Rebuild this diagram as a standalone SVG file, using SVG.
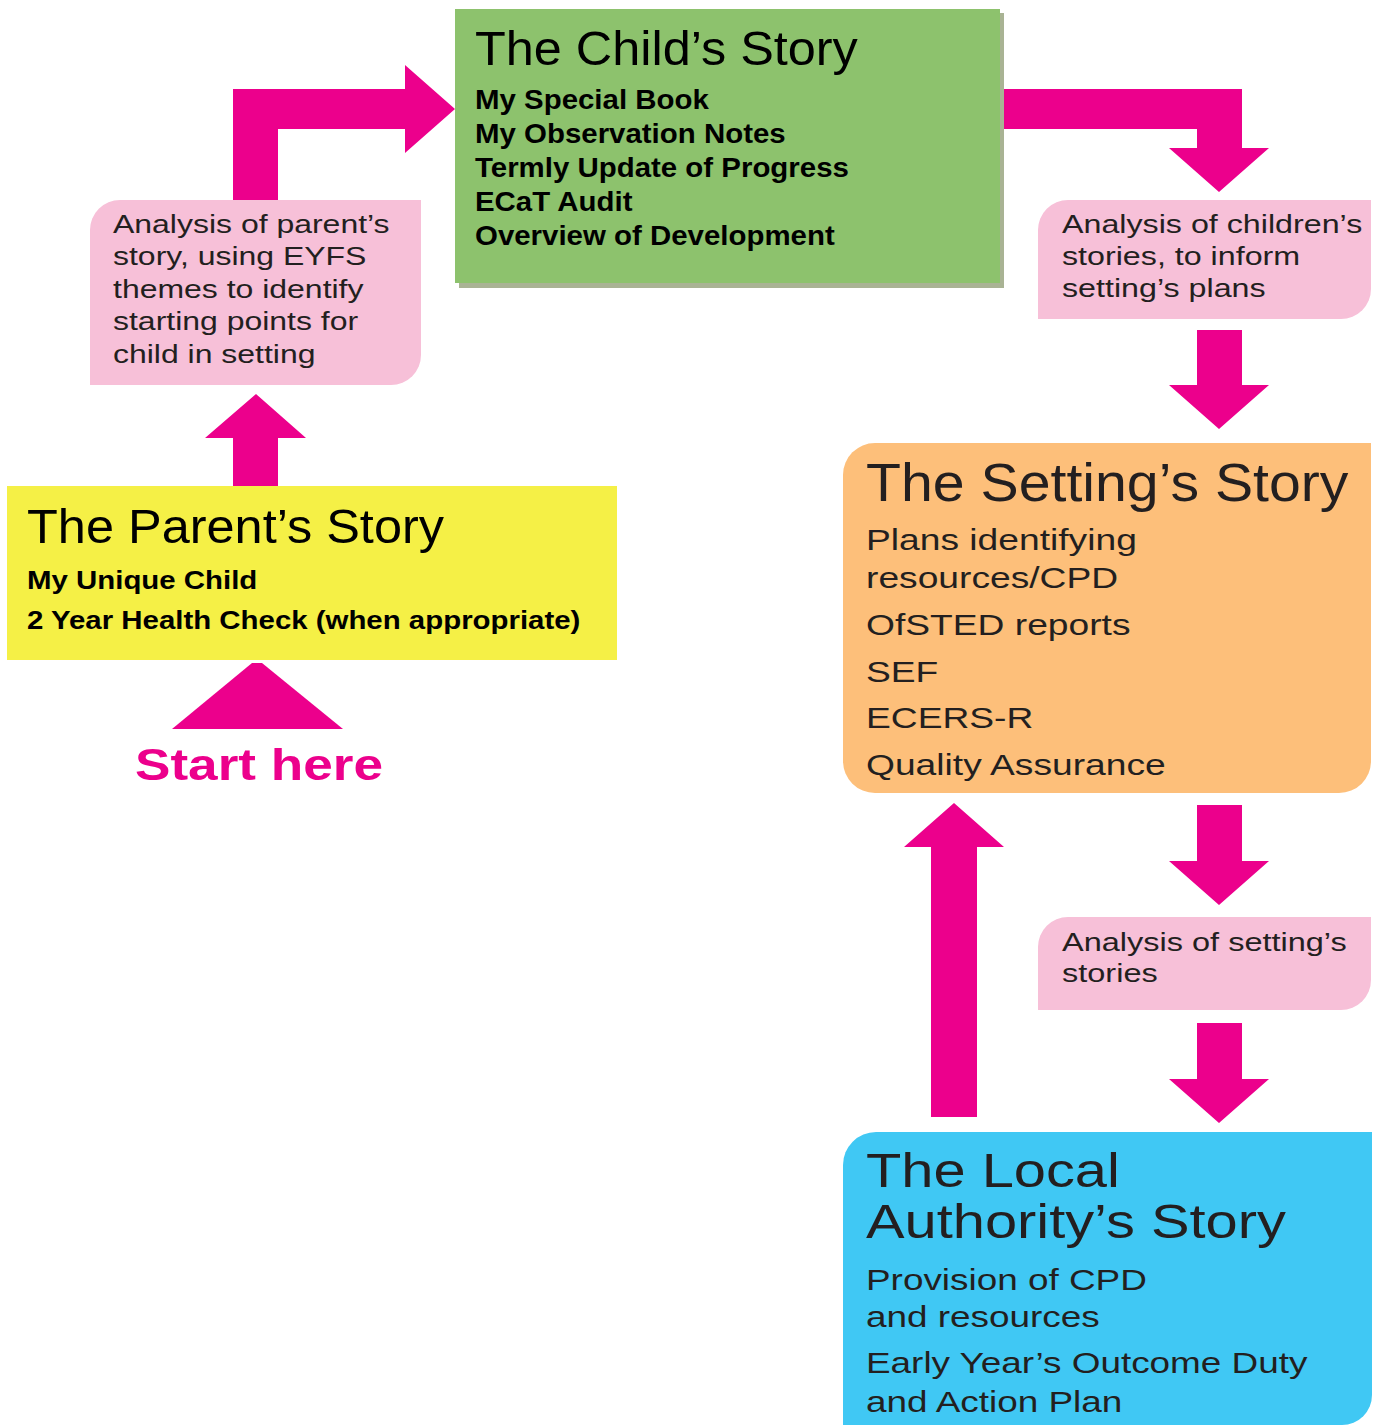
<svg xmlns="http://www.w3.org/2000/svg" width="1375" height="1425" viewBox="0 0 1375 1425">
<style>
.arrow{fill:#ec008c}
.pink{fill:#f7c0d8}
.hv{font-family:"Liberation Sans",Arial,sans-serif;fill:#231f20}
.ar{font-family:"Liberation Sans",Arial,sans-serif;fill:#000}
.b{font-weight:bold}
.pt{font-size:26px}
</style>
<rect width="1375" height="1425" fill="#ffffff"/>
<g id="connectors">
<polygon class="arrow" points="172,729 252,663 262,663 343,729"/>
<polygon class="arrow" points="233,486 233,438 205,438 256,394 306,438 278,438 278,486"/>
<polygon class="arrow" points="233,200 233,89 405,89 405,65 455,109 405,153 405,129 278,129 278,200"/>
<polygon class="arrow" points="1004,89 1242,89 1242,148 1269,148 1219,192 1169,148 1197,148 1197,129 1004,129"/>
<polygon class="arrow" points="1197,330 1242,330 1242,385 1269,385 1219,429 1169,385 1197,385"/>
<polygon class="arrow" points="1197,805 1242,805 1242,861 1269,861 1219,905 1169,861 1197,861"/>
<polygon class="arrow" points="1197,1023 1242,1023 1242,1079 1269,1079 1219,1123 1169,1079 1197,1079"/>
<polygon class="arrow" points="931,1117 931,847 904,847 954,803 1004,847 977,847 977,1117"/>
</g>
<g id="start-here">
<text class="ar b" x="135" y="780" font-size="44" style="fill:#ec008c" textLength="248" lengthAdjust="spacingAndGlyphs">Start here</text>
</g>
<g id="parents-story">
<rect x="7" y="486" width="610" height="174" fill="#f5f046"/>
<text class="ar" transform="translate(27 0) scale(1.03 1)" x="0" y="543" font-size="49">The Parent’s Story</text>
<g class="ar b" transform="translate(27 0) scale(1.11 1)" font-size="26.5">
<text x="0" y="589">My Unique Child</text>
<text x="0" y="629">2 Year Health Check (when appropriate)</text>
</g>
</g>
<g id="analysis-parent">
<path class="pink" d="M120,200 H421 V355 A30,30 0 0 1 391,385 H90 V230 A30,30 0 0 1 120,200 Z"/>
<g class="hv pt" transform="translate(113 0) scale(1.23 1)">
<text x="0" y="233">Analysis of parent’s</text>
<text x="0" y="265.5">story, using EYFS</text>
<text x="0" y="298">themes to identify</text>
<text x="0" y="330.5">starting points for</text>
<text x="0" y="363">child in setting</text>
</g>
</g>
<g id="childs-story">
<rect x="459" y="13" width="545" height="275" fill="#a9b394"/>
<rect x="455" y="9" width="545" height="274" fill="#8dc26d"/>
<text class="ar" transform="translate(475 0) scale(1.05 1)" x="0" y="65" font-size="48">The Child’s Story</text>
<g class="ar b" transform="translate(475 0) scale(1.09 1)" font-size="27">
<text x="0" y="109">My Special Book</text>
<text x="0" y="143">My Observation Notes</text>
<text x="0" y="177">Termly Update of Progress</text>
<text x="0" y="211">ECaT Audit</text>
<text x="0" y="245">Overview of Development</text>
</g>
</g>
<g id="analysis-children">
<path class="pink" d="M1068,200 H1371 V289 A30,30 0 0 1 1341,319 H1038 V230 A30,30 0 0 1 1068,200 Z"/>
<g class="hv pt" transform="translate(1062 0) scale(1.24 1)">
<text x="0" y="233">Analysis of children’s</text>
<text x="0" y="265">stories, to inform</text>
<text x="0" y="297">setting’s plans</text>
</g>
</g>
<g id="settings-story">
<path d="M875,443 H1371 V761 A32,32 0 0 1 1339,793 H875 A32,32 0 0 1 843,761 V475 A32,32 0 0 1 875,443 Z" fill="#fdbf7a"/>
<text class="hv" transform="translate(866 0) scale(1.07 1)" x="0" y="501.5" font-size="53.5">The Setting’s Story</text>
<g class="hv" transform="translate(866 0) scale(1.24 1)" font-size="30">
<text x="0" y="550">Plans identifying</text>
<text x="0" y="588">resources/CPD</text>
<text x="0" y="635">OfSTED reports</text>
<text x="0" y="682">SEF</text>
<text x="0" y="728">ECERS-R</text>
<text x="0" y="775">Quality Assurance</text>
</g>
</g>
<g id="analysis-setting">
<path class="pink" d="M1068,917 H1371 V980 A30,30 0 0 1 1341,1010 H1038 V947 A30,30 0 0 1 1068,917 Z"/>
<g class="hv pt" transform="translate(1062 0) scale(1.25 1)">
<text x="0" y="951">Analysis of setting’s</text>
<text x="0" y="982.5">stories</text>
</g>
</g>
<g id="local-authority-story">
<path d="M876,1132 H1372 V1395 A30,30 0 0 1 1342,1425 H843 V1165 A33,33 0 0 1 876,1132 Z" fill="#40c8f4"/>
<g class="hv" transform="translate(866 0) scale(1.18 1)" font-size="49">
<text x="0" y="1187">The Local</text>
<text x="0" y="1238">Authority’s Story</text>
</g>
<g class="hv" transform="translate(866 0) scale(1.23 1)" font-size="30">
<text x="0" y="1290">Provision of CPD</text>
<text x="0" y="1327">and resources</text>
<text x="0" y="1373">Early Year’s Outcome Duty</text>
<text x="0" y="1412">and Action Plan</text>
</g>
</g>
</svg>
